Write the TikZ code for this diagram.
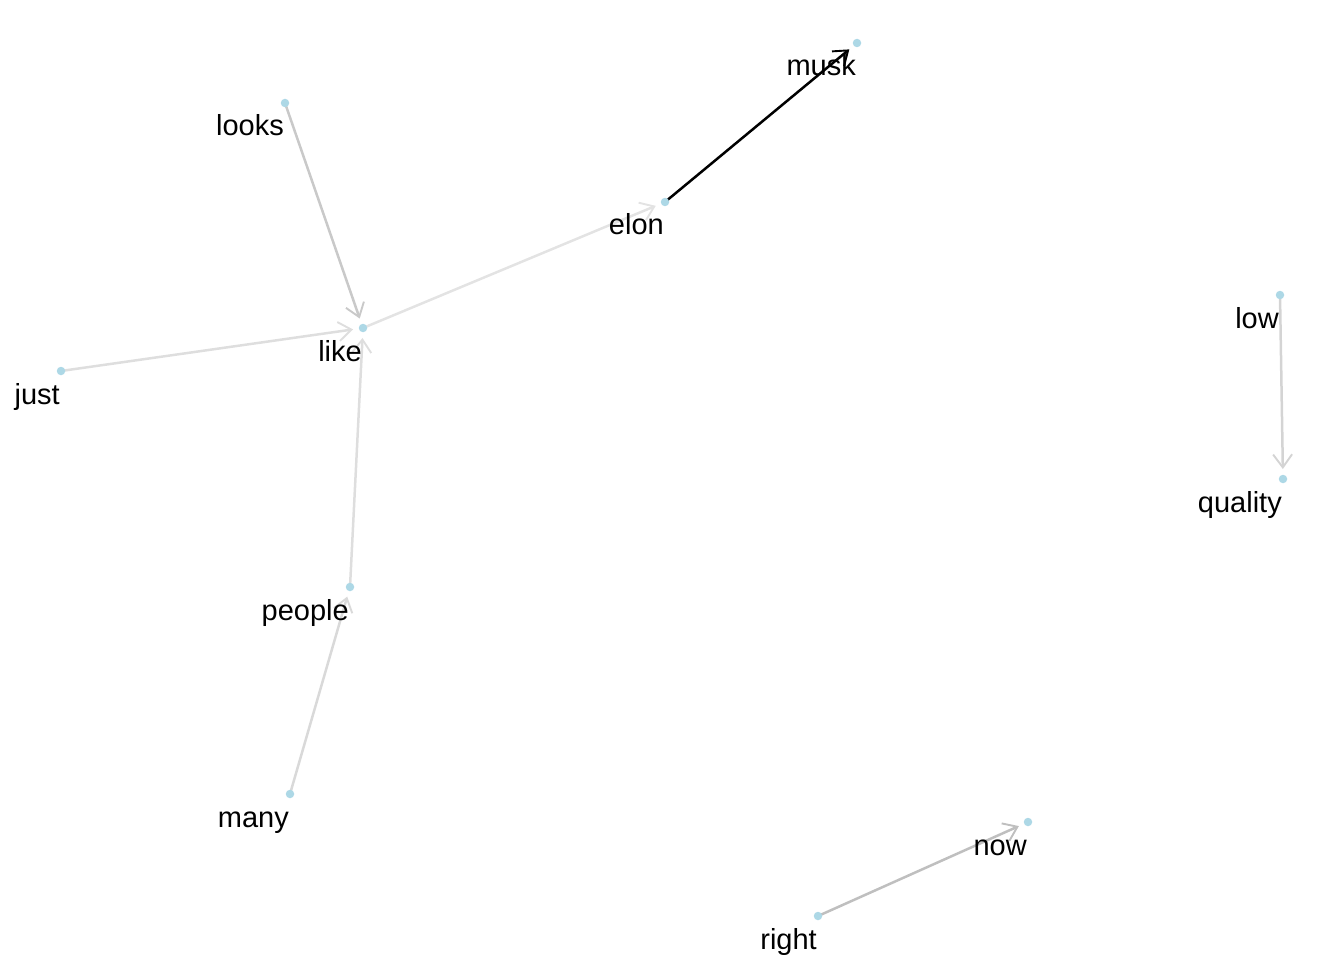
\documentclass[tikz,border=0pt]{standalone}
\usepackage{fontspec}
\setmainfont{Liberation Sans}
\usetikzlibrary{arrows.meta}
\begin{document}
\begin{tikzpicture}[x=1pt,y=-1pt,
  pt/.style={circle,fill=lightblue,inner sep=0pt,minimum size=8.5pt},
  lbl/.style={anchor=base east,inner sep=0pt,font=\fontsize{29}{31}\selectfont},
  edge/.style={line width=2.5pt,-{Straight Barb[length=13pt,width=19pt,line width=1.9pt]},shorten >=10pt}]
\definecolor{lightblue}{HTML}{ADD8E6}
\useasboundingbox (0,0) rectangle (1344,960);
\foreach \n/\x/\y in {musk/857/43,looks/285/103,elon/665/202,low/1280/295,like/363/328,just/61/371,quality/1283/479,people/350/587,many/290/794,now/1028/822,right/818/916}{
  \coordinate (\n) at (\x,\y);
}
\draw[edge,color=black!21] (looks) -- (like);
\draw[edge,color=black!13] (just) -- (like);
\draw[edge,color=black!11] (like) -- (elon);
\draw[edge,color=black] (elon) -- (musk);
\draw[edge,color=black!13] (people) -- (like);
\draw[edge,color=black!15] (many) -- (people);
\draw[edge,color=black!17] (low) -- (quality);
\draw[edge,color=black!25] (right) -- (now);
\foreach \n/\t in {musk/musk,looks/looks,elon/elon,low/low,like/like,just/just,quality/quality,people/people,many/many,now/now,right/right}{
  \node[pt] (p\n) at (\n) {};
  \node[lbl] (l\n) at ([xshift=-1pt,yshift=-33pt]\n) {\t};
}
\end{tikzpicture}
\end{document}
